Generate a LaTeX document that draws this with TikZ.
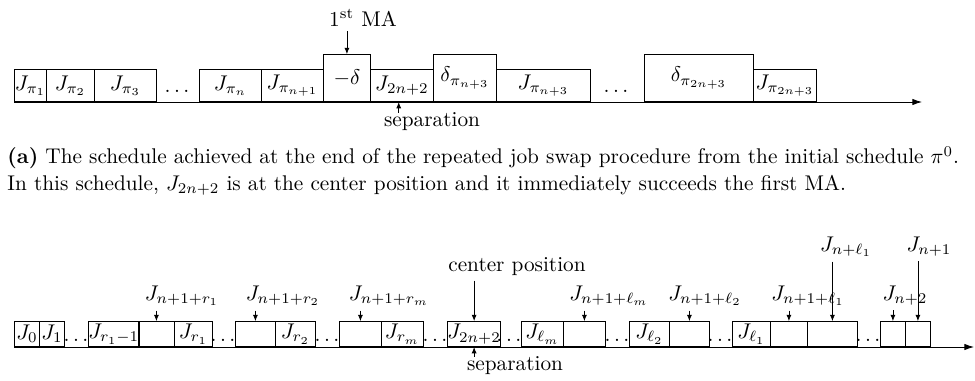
\documentclass[tikz,border=0pt]{standalone}
\usetikzlibrary{arrows.meta}
\begin{document}
\begin{tikzpicture}[x=0.47pt,y=0.47pt,yscale=-1,xscale=1,
        job/.style={draw, anchor=south west, inner sep=0pt, minimum height=15.04pt},
        tall/.style={job, minimum height=22.09pt},
        cell/.style={draw, anchor=south west, inner sep=0pt, minimum height=11.75pt},
        lab/.style={inner sep=2pt},
        dots/.style={inner sep=0pt},
        pin/.style={-{Latex[length=3pt,width=2.4pt]}},
        axis/.style={-{Latex[length=4.5pt,width=3pt]}}]
        \useasboundingbox (0,0) rectangle (975,381);
        \node[job, minimum width=15.04pt] (p1) at (14,102) {$J_{\pi_1}$};
        \node[job, minimum width=22.56pt] (p2) at (46,102) {$J_{\pi_2}$};
        \node[job, minimum width=29.14pt] (p3) at (94,102) {$J_{\pi_3}$};
        \node[dots] (dt1) at (177,91) {$\dots$};
        \node[job, minimum width=29.14pt] (pn) at (199,102) {$J_{\pi_n}$};
        \node[job, minimum width=29.14pt] (pn1) at (261,102) {$J_{\pi_{n+1}}$};
        \node[tall, minimum width=22.09pt] (md) at (323,102) {$-\delta$};
        \node[job, minimum width=29.61pt] (j2) at (370,102) {$J_{2n+2}$};
        \node[tall, minimum width=29.61pt] (dn3) at (433,102) {$\delta_{\pi_{n+3}}$};
        \node[job, minimum width=44.18pt] (pn3) at (496,102) {$J_{\pi_{n+3}}$};
        \node[dots] (dt2) at (616,91) {$\dots$};
        \node[tall, minimum width=51.23pt] (d2n3) at (644,102) {$\delta_{\pi_{2n+3}}$};
        \node[job, minimum width=29.61pt] (p2n3) at (753,102) {$J_{\pi_{2n+3}}$};
        \coordinate (tend) at (922,102);
        \draw[axis] (p1.south west) -- (tend);
        \node[lab] (ma) at (363,18) {1\textsuperscript{st} MA};
        \draw[pin] (ma.south -| md.north) -- (md.north);
        \node[inner sep=0pt] (sep) at (432,122) {separation};
        \draw[pin] ([xshift=-1.5pt]sep.north -| j2.south) -- ([xshift=-1.5pt]j2.south);
        \node[anchor=base west, inner sep=0pt] (cap1) at (7,164) {\textbf{(a)} The schedule achieved at the end of the repeated job swap procedure from the initial schedule $\pi^0$.};
        \node[anchor=base west, inner sep=0pt] (cap2) at (7,190) {In this schedule, $J_{2n+2}$ is at the center position and it immediately succeeds the first MA.};
        \node[cell, minimum width=11.75pt] (b0) at (14,347) {$J_0$};
        \node[cell, minimum width=11.75pt] (b1) at (39,347) {$J_1$};
        \node[dots] (db1) at (76,340) {$\dots$};
        \node[cell, minimum width=23.5pt] (br1m) at (88,347) {$J_{r_1-1}$};
        \node[cell, minimum width=16.92pt] (e1) at (138,347) {};
        \node[cell, minimum width=17.86pt] (br1) at (174,347) {$J_{r_1}$};
        \node[dots] (db2) at (223,340) {$\dots$};
        \node[cell, minimum width=18.8pt] (e2) at (235,347) {};
        \node[cell, minimum width=18.8pt] (br2) at (275,347) {$J_{r_2}$};
        \node[dots] (db3) at (327,340) {$\dots$};
        \node[cell, minimum width=19.74pt] (em) at (339,347) {};
        \node[cell, minimum width=19.74pt] (brm) at (381,347) {$J_{r_m}$};
        \node[dots] (db4) at (435,340) {$\dots$};
        \node[cell, minimum width=23.5pt] (bc) at (447,347) {$J_{2n+2}$};
        \node[dots] (db5) at (509,340) {$\dots$};
        \node[cell, minimum width=19.74pt] (blm) at (521,347) {$J_{\ell_m}$};
        \node[cell, minimum width=19.74pt] (elm) at (563,347) {};
        \node[dots] (db6) at (617,340) {$\dots$};
        \node[cell, minimum width=18.8pt] (bl2) at (629,347) {$J_{\ell_2}$};
        \node[cell, minimum width=18.8pt] (el2) at (669,347) {};
        \node[dots] (db7) at (720,340) {$\dots$};
        \node[cell, minimum width=17.86pt] (bl1) at (732,347) {$J_{\ell_1}$};
        \node[cell, minimum width=17.39pt] (el1) at (770,347) {};
        \node[cell, minimum width=23.5pt] (enl1) at (807,347) {};
        \node[dots] (db8) at (868,340) {$\dots$};
        \node[cell, minimum width=11.75pt] (en2) at (880,347) {};
        \node[cell, minimum width=11.75pt] (en1) at (905,347) {};
        \coordinate (bend) at (974,347);
        \draw[axis] (b0.south west) -- (bend);
        \node[lab] (lr1) at (182,296) {$J_{n+1+r_1}$};
        \node[lab] (lr2) at (283,296) {$J_{n+1+r_2}$};
        \node[lab] (lrm) at (389,296) {$J_{n+1+r_m}$};
        \node[lab] (llm) at (609,296) {$J_{n+1+\ell_m}$};
        \node[lab] (ll2) at (705,296) {$J_{n+1+\ell_2}$};
        \node[lab] (ll1) at (808,296) {$J_{n+1+\ell_1}$};
        \node[lab] (ln2) at (905,296) {$J_{n+2}$};
        \node[lab] (lnl1) at (846,247) {$J_{n+\ell_1}$};
        \node[lab] (ln1) at (929,247) {$J_{n+1}$};
        \node[lab] (cpos) at (517,267) {center position};
        \draw[pin] (lr1.south -| e1.north) -- (e1.north);
        \draw[pin] (lr2.south -| e2.north) -- (e2.north);
        \draw[pin] (lrm.south -| em.north) -- (em.north);
        \draw[pin] (llm.south -| elm.north) -- (elm.north);
        \draw[pin] (ll2.south -| el2.north) -- (el2.north);
        \draw[pin] (ll1.south -| el1.north) -- (el1.north);
        \draw[pin] (ln2.south -| en2.north) -- (en2.north);
        \draw[pin] (lnl1.south -| enl1.north) -- (enl1.north);
        \draw[pin] (ln1.south -| en1.north) -- (en1.north);
        \draw[pin] (cpos.south -| bc.north) -- (bc.north);
        \node[inner sep=0pt] (bsep) at (515,366) {separation};
        \draw[pin] (bsep.north -| bc.south) -- (bc.south);
\end{tikzpicture}
\end{document}
